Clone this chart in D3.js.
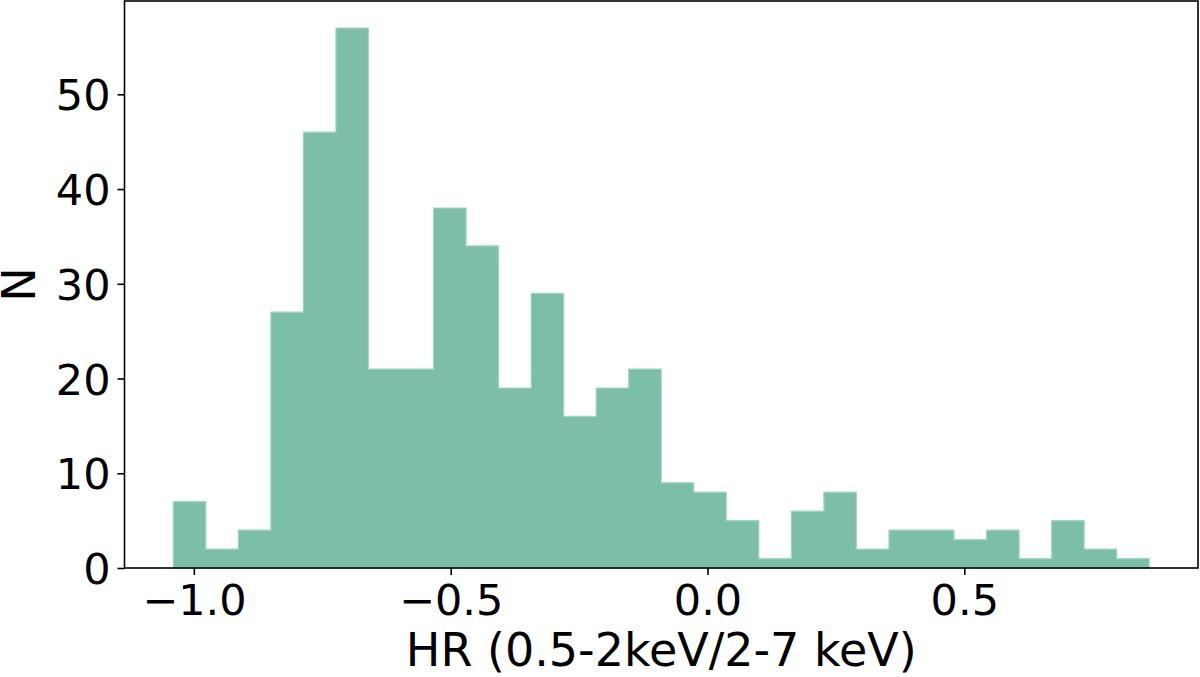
<!DOCTYPE html>
<html>
<head>
<meta charset="utf-8">
<script src="https://cdn.jsdelivr.net/npm/d3@7"></script>
<style>
  html, body { margin: 0; padding: 0; background: #fff; }
  svg text { font-family: "DejaVu Sans", sans-serif; fill: #000; }
</style>
</head>
<body>
<svg id="chart" width="1200" height="677"></svg>
<script>
'use strict';

// histogram: 30 equal bins from binStart to binEnd
var binStart = -1.04;
var binEnd = 0.86;
var counts = [7, 2, 4, 27, 46, 57, 21, 21, 38, 34, 19, 29, 16, 19, 21,
              9, 8, 5, 1, 6, 8, 2, 4, 4, 3, 4, 1, 5, 2, 1];
var xTicks = [-1.0, -0.5, 0.0, 0.5];
var yTicks = [0, 10, 20, 30, 40, 50];
var xLabel = 'HR (0.5-2keV/2-7 keV)';
var yLabel = 'N';

(function() {
  var svg = d3.select('#chart');
  var pLeft = 124.5, pRight = 1198, pTop = 1, pBottom = 568;

  // matplotlib style 5% margins
  var span = binEnd - binStart;
  var x = d3.scaleLinear()
    .domain([binStart - 0.05 * span, binEnd + 0.05 * span])
    .range([pLeft, pRight]);
  var yMax = d3.max(counts) * 1.05;
  var y = d3.scaleLinear().domain([0, yMax]).range([pBottom, pTop]);

  var binW = span / counts.length;
  var steps = counts.map(function(c, i) {
    return { x: binStart + i * binW, n: c };
  });
  steps.push({ x: binEnd, n: counts[counts.length - 1] });

  // stepfilled histogram, one outline
  var area = d3.area()
    .curve(d3.curveStepAfter)
    .x(function(d) { return x(d.x); })
    .y0(y(0))
    .y1(function(d) { return y(d.n); });

  svg.append('path')
    .datum(steps)
    .attr('d', area)
    .attr('fill', '#7dbfa6')
    .attr('stroke', '#a3d6c2')
    .attr('stroke-width', 1.2);

  var fmtMinus = function(s) { return s.replace('-', '\u2212'); };

  var xAxis = svg.append('g')
    .attr('transform', 'translate(0,' + pBottom + ')')
    .call(d3.axisBottom(x).tickValues(xTicks).tickSize(7).tickPadding(9)
      .tickFormat(function(d) { return fmtMinus(d3.format('.1f')(d)); }));

  var yAxis = svg.append('g')
    .attr('transform', 'translate(' + pLeft + ',0)')
    .call(d3.axisLeft(y).tickValues(yTicks).tickSize(7).tickPadding(7)
      .tickFormat(d3.format('d')));

  [xAxis, yAxis].forEach(function(g) {
    g.select('.domain').remove();
    g.selectAll('.tick line').attr('stroke', '#000').attr('stroke-width', 1.6);
    g.selectAll('.tick text').style('font-size', '43px').attr('fill', '#000');
  });
  yAxis.selectAll('.tick text').attr('dy', '0.36em');

  // spines
  svg.append('rect')
    .attr('x', pLeft).attr('y', pTop)
    .attr('width', pRight - pLeft).attr('height', pBottom - pTop)
    .attr('fill', 'none').attr('stroke', '#000').attr('stroke-width', 1.6);

  svg.append('text')
    .attr('x', (pLeft + pRight) / 2).attr('y', 666)
    .attr('text-anchor', 'middle')
    .style('font-size', '46px')
    .text(xLabel);

  svg.append('text')
    .attr('transform', 'translate(35,' + ((pTop + pBottom) / 2) + ') rotate(-90)')
    .attr('text-anchor', 'middle')
    .style('font-size', '46px')
    .text(yLabel);
})();
</script>
</body>
</html>
